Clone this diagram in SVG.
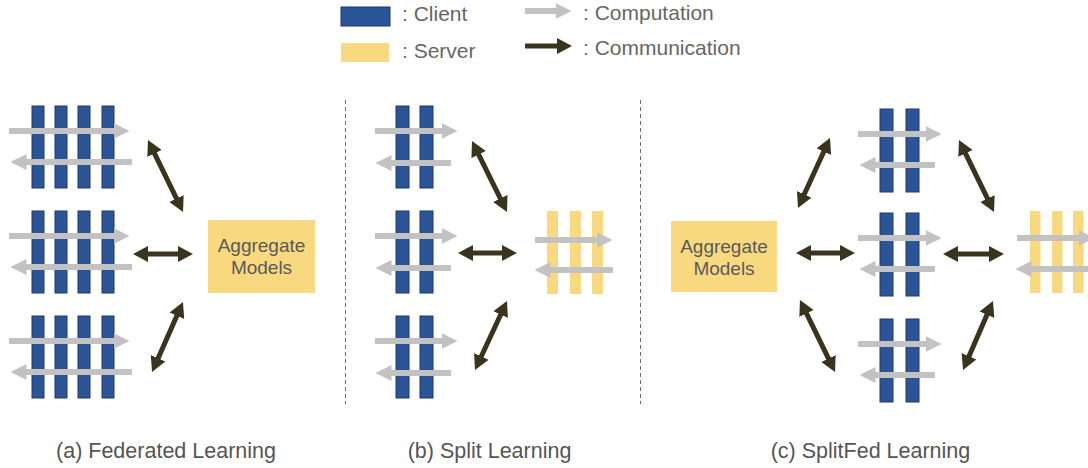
<svg xmlns="http://www.w3.org/2000/svg" width="1088" height="468" viewBox="0 0 1088 468">
  <style>
    .client { fill: #2c5597; stroke: #1d3a6c; stroke-width: 1; }
    .server { fill: #f8d97f; }
    .comp { stroke: #c2c2c2; stroke-width: 6; fill: none; marker-end: url(#grayHead); }
    .comm { stroke: #3a341e; stroke-width: 5; fill: none; marker-start: url(#darkHead); marker-end: url(#darkHead); }
    .commOne { stroke: #3a341e; stroke-width: 5; fill: none; marker-end: url(#darkHead); }
    .agg { fill: #f8d97f; }
    .aggText { font-family: "Liberation Sans", Arial, sans-serif; font-size: 19px; fill: #5a5a5a; text-anchor: middle; }
    .legend { font-family: "Liberation Sans", Arial, sans-serif; font-size: 21px; fill: #666666; }
    .caption { font-family: "Liberation Sans", Arial, sans-serif; font-size: 21.5px; fill: #555555; text-anchor: middle; }
    .divider { stroke: #6e6e6e; stroke-width: 1; stroke-dasharray: 4 3; }
  </style>
  <defs>
    <marker id="grayHead" markerUnits="userSpaceOnUse" markerWidth="16" markerHeight="16" refX="0.5" refY="8" orient="auto">
      <path d="M0,0 L16,8 L0,16 z" fill="#c2c2c2"/>
    </marker>
    <marker id="darkHead" markerUnits="userSpaceOnUse" markerWidth="15" markerHeight="16" refX="1" refY="8" orient="auto-start-reverse">
      <path d="M0,0 L15,8 L0,16 z" fill="#3a341e"/>
    </marker>
    <!-- four-layer client stack with its two computation arrows -->
    <g id="client4">
      <rect class="client" x="32" y="0" width="12" height="82"/>
      <rect class="client" x="55" y="0" width="12" height="82"/>
      <rect class="client" x="78" y="0" width="12" height="82"/>
      <rect class="client" x="102" y="0" width="12" height="82"/>
      <line class="comp" x1="9" y1="25" x2="114" y2="25"/>
      <line class="comp" x1="132" y1="56" x2="26" y2="56"/>
    </g>
    <!-- two-layer client stack (split learning) -->
    <g id="client2b">
      <rect class="client" x="396" y="0" width="13" height="82"/>
      <rect class="client" x="420" y="0" width="13" height="82"/>
      <line class="comp" x1="375" y1="25" x2="442" y2="25"/>
      <line class="comp" x1="451" y1="57" x2="391" y2="57"/>
    </g>
    <!-- two-layer client stack (splitfed learning) -->
    <g id="client2c">
      <rect class="client" x="880" y="0" width="13" height="83"/>
      <rect class="client" x="906" y="0" width="13" height="83"/>
      <line class="comp" x1="858" y1="25" x2="926" y2="25"/>
      <line class="comp" x1="935" y1="56" x2="875" y2="56"/>
    </g>
  </defs>

  <!-- legend -->
  <g id="legend">
    <rect class="client" x="341" y="7" width="49" height="19"/>
    <text class="legend" x="402" y="21">: Client</text>
    <rect class="server" x="341" y="43" width="48" height="19"/>
    <text class="legend" x="402" y="58">: Server</text>
    <line class="comp" x1="525" y1="11" x2="556" y2="11"/>
    <text class="legend" x="583" y="20">: Computation</text>
    <line class="commOne" x1="525" y1="46" x2="558" y2="46"/>
    <text class="legend" x="583" y="55">: Communication</text>
  </g>

  <!-- section dividers -->
  <line class="divider" x1="345.5" y1="100" x2="345.5" y2="404"/>
  <line class="divider" x1="640.5" y1="100" x2="640.5" y2="404"/>

  <!-- (a) federated learning -->
  <g id="fl-client-1"><use href="#client4" y="106"/></g>
  <g id="fl-client-2"><use href="#client4" y="211"/></g>
  <g id="fl-client-3"><use href="#client4" y="316"/></g>
  <g id="fl-aggregate">
    <rect class="agg" x="208" y="220" width="107" height="73"/>
    <text class="aggText" x="261.5" y="252">Aggregate</text>
    <text class="aggText" x="261.5" y="274">Models</text>
  </g>

  <!-- (b) split learning -->
  <g id="sl-client-1"><use href="#client2b" y="106"/></g>
  <g id="sl-client-2"><use href="#client2b" y="211"/></g>
  <g id="sl-client-3"><use href="#client2b" y="316"/></g>
  <g id="sl-server">
    <rect class="server" x="547" y="211" width="11" height="83"/>
    <rect class="server" x="570" y="211" width="11" height="83"/>
    <rect class="server" x="592" y="211" width="11" height="83"/>
    <line class="comp" x1="535" y1="240" x2="597" y2="240"/>
    <line class="comp" x1="613" y1="270" x2="550" y2="270"/>
  </g>

  <!-- (c) splitfed learning -->
  <g id="sfl-aggregate">
    <rect class="agg" x="671" y="221" width="106" height="71"/>
    <text class="aggText" x="724" y="253">Aggregate</text>
    <text class="aggText" x="724" y="275">Models</text>
  </g>
  <g id="sfl-client-1"><use href="#client2c" y="109"/></g>
  <g id="sfl-client-2"><use href="#client2c" y="213"/></g>
  <g id="sfl-client-3"><use href="#client2c" y="319"/></g>
  <g id="sfl-server">
    <rect class="server" x="1030" y="211" width="10.5" height="82"/>
    <rect class="server" x="1052" y="211" width="10.5" height="82"/>
    <rect class="server" x="1073" y="211" width="10.5" height="82"/>
    <line class="comp" x1="1017" y1="238" x2="1079" y2="238"/>
    <line class="comp" x1="1093" y1="269" x2="1031" y2="269"/>
  </g>

  <!-- communication links -->
  <g id="connectors">
    <line class="comm" x1="154.1" y1="152.6" x2="176.9" y2="199.4"/>
    <line class="comm" x1="147" y1="254" x2="179" y2="254"/>
    <line class="comm" x1="177.3" y1="314.8" x2="157.7" y2="359.2"/>

    <line class="comm" x1="478.2" y1="153.6" x2="500.8" y2="199.4"/>
    <line class="comm" x1="472" y1="253" x2="503" y2="253"/>
    <line class="comm" x1="501.1" y1="313.7" x2="480.9" y2="357.3"/>

    <line class="comm" x1="824.2" y1="150.7" x2="803.8" y2="195.3"/>
    <line class="comm" x1="810" y1="253" x2="841" y2="253"/>
    <line class="comm" x1="806.1" y1="312.6" x2="828.9" y2="359.4"/>

    <line class="comm" x1="965.1" y1="152.6" x2="987.9" y2="199.4"/>
    <line class="comm" x1="957" y1="254" x2="990" y2="254"/>
    <line class="comm" x1="987.4" y1="313.8" x2="968.6" y2="357.2"/>
  </g>

  <!-- captions -->
  <text class="caption" x="166" y="458">(a) Federated Learning</text>
  <text class="caption" x="489.5" y="458">(b) Split Learning</text>
  <text class="caption" x="870.5" y="458">(c) SplitFed Learning</text>
</svg>
